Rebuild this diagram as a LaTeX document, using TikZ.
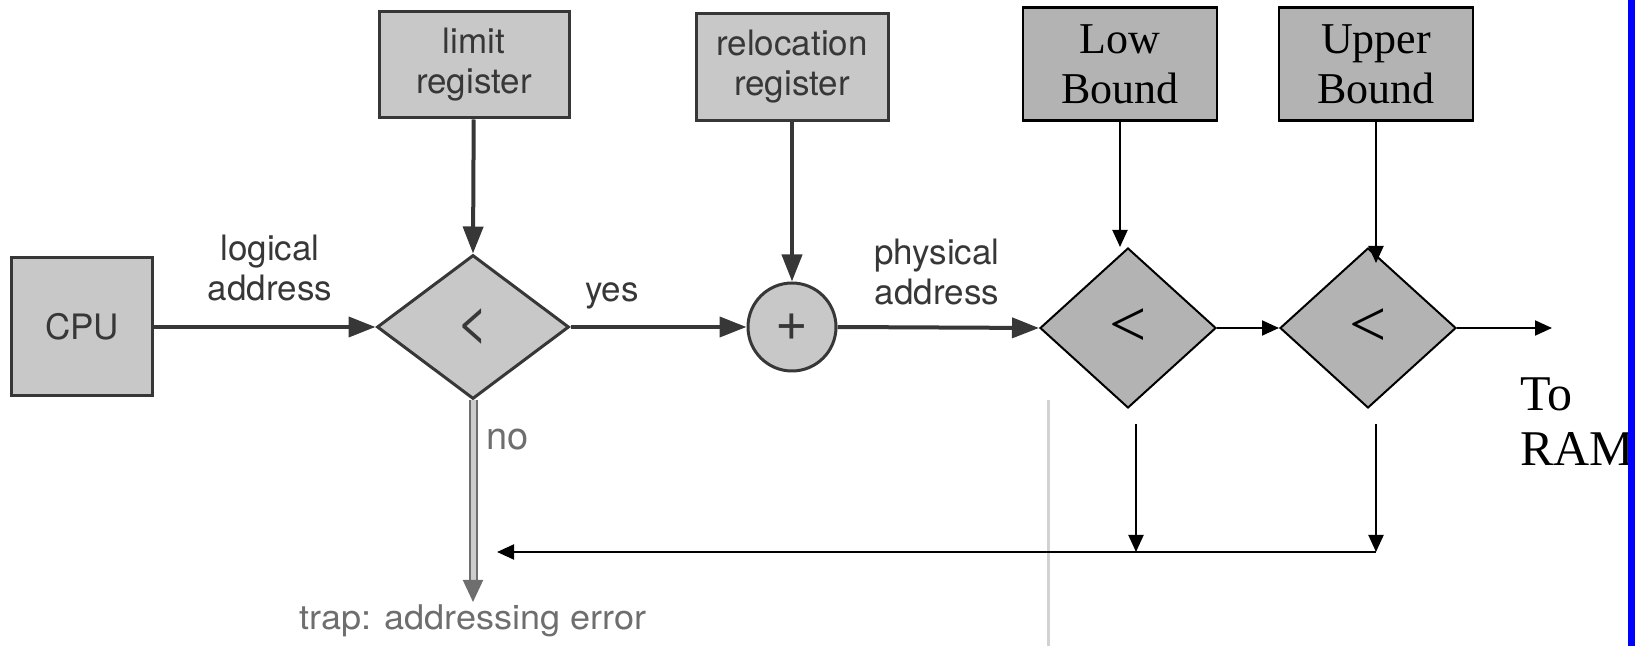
\documentclass[tikz,border=0pt]{standalone}
\usepackage{fontspec}
\usepackage{graphicx}
\setmainfont{Liberation Serif}
\newfontfamily\helv{TeX Gyre Heros}
\usetikzlibrary{shapes.geometric,arrows.meta}

\definecolor{scanfill}{RGB}{200,200,200}
\definecolor{scanink}{RGB}{55,55,55}
\definecolor{slidefill}{RGB}{179,179,179}
\definecolor{ghost}{RGB}{110,110,110}
\definecolor{pageedge}{RGB}{210,210,210}
\definecolor{barblue}{RGB}{0,0,255}

\begin{document}
\begin{tikzpicture}[x=0.5pt,y=-0.5pt,
  scanfont/.style={font=\helv\fontsize{17.5}{20}\selectfont},
  opfont/.style={font=\helv\fontsize{28}{30}\selectfont},
  scanbox/.style={draw=scanink, line width=1.5pt, fill=scanfill, text=scanink,
    align=center, inner sep=0pt, scanfont},
  scandiamond/.style={diamond, draw=scanink, line width=1.5pt, fill=scanfill,
    text=scanink, inner sep=0pt, opfont},
  scancircle/.style={circle, draw=scanink, line width=1.5pt, fill=scanfill,
    text=scanink, inner sep=0pt, opfont},
  lbl/.style={text=scanink, align=center, inner sep=0pt, scanfont},
  scanarrow/.style={draw=scanink, line width=2pt,
    -{Triangle[length=13.5pt,width=10pt]}},
  slidebox/.style={draw=black, line width=1.2pt, fill=slidefill, align=center,
    inner sep=0pt, font=\fontsize{22}{25}\selectfont},
  slidediamond/.style={diamond, draw=black, line width=1pt, fill=slidefill,
    inner sep=0pt, font=\fontsize{33}{36}\selectfont},
  slidearrow/.style={draw=black, line width=1pt,
    -{Triangle[length=8.5pt,width=7.5pt]}},
  trapline/.style={draw=ghost, line width=1pt, double=black!20,
    double distance=2.5pt, -{Triangle[length=11pt,width=10pt]}}
]
\useasboundingbox (0,0) rectangle (1635,646);

% edge of the scanned page
\draw[pageedge, line width=1.5pt] (1048,400) -- (1048,646);

% ---- base/limit check (scanned part) ----
\node[scanbox, minimum width=70.5pt, minimum height=69pt] (cpu) at (82,327) {CPU};
\node[scanbox, minimum width=95pt, minimum height=53pt] (limit) at (474,65) {limit\\register};
\node[scanbox, minimum width=96pt, minimum height=53.5pt] (reloc) at (792,67) {relocation\\register};
\node[scandiamond, minimum width=96pt, minimum height=72pt] (cmp) at (473,327) {<};
\node[scancircle, minimum size=44pt] (add) at (792,327) {+};

\node[lbl] (logical) at (270,268) {logical\\address};
\node[lbl] (yes) at (612,296) {yes};
\node[lbl] (phys) at (937,272) {physical\\address};

\draw[scanarrow] (cpu) -- (cmp.west);
\draw[scanarrow] (limit) -- (cmp.north);
\draw[scanarrow] (cmp.east) -- (add.west);
\draw[scanarrow] (reloc) -- (add.north);

% ---- bound checks ----
\node[slidebox, minimum width=97pt, minimum height=56.5pt] (lowb) at (1120,64) {Low\\Bound};
\node[slidebox, minimum width=97pt, minimum height=56.5pt] (upb) at (1376,64) {Upper\\Bound};
\node[slidediamond, minimum width=88pt, minimum height=80pt] (lowcmp) at (1128,328) {<};
\node[slidediamond, minimum width=88pt, minimum height=80pt] (upcmp) at (1368,328) {<};

\draw[scanarrow] (add.east) -- (lowcmp.west);
\draw[slidearrow] (lowb.south) -- (lowb.south |- lowcmp.north);
\coordinate (uptip) at (1376,263);
\draw[slidearrow] (upb.south) -- (uptip);
\draw[slidearrow] (lowcmp.east) -- (upcmp.west);
\coordinate (ramend) at (1552,328);
\draw[slidearrow] (upcmp.east) -- (ramend);

\node[anchor=north west, inner sep=0pt, align=left,
  font=\fontsize{25}{27.5}\selectfont] (toram) at (1520,377) {To\\RAM};

% failed checks lead to the trap
\coordinate (lowfail) at (1136,424);
\coordinate (lowjoin) at (1136,552);
\coordinate (upfail) at (1376,424);
\coordinate (upjoin) at (1376,552);
\coordinate (trapjoin) at (497,552);
\draw[slidearrow] (lowfail) -- (lowjoin);
\draw[slidearrow] (upfail) -- (upjoin);
\draw[slidearrow] (upjoin) -- (trapjoin);

\coordinate (trapend) at (473,602);
\draw[trapline] (cmp.south) -- (trapend);
\node[lbl, text=ghost, anchor=west, font=\helv\fontsize{19}{22}\selectfont]
  (no) at (486,440) {no};
\node[lbl, text=ghost] (trap) at (473,621)
  {\scalebox{1.06}[1]{\fontsize{17}{20}\selectfont trap: addressing error}};

% slide border
\fill[barblue] (1628,0) rectangle (1635,646);
\end{tikzpicture}
\end{document}
